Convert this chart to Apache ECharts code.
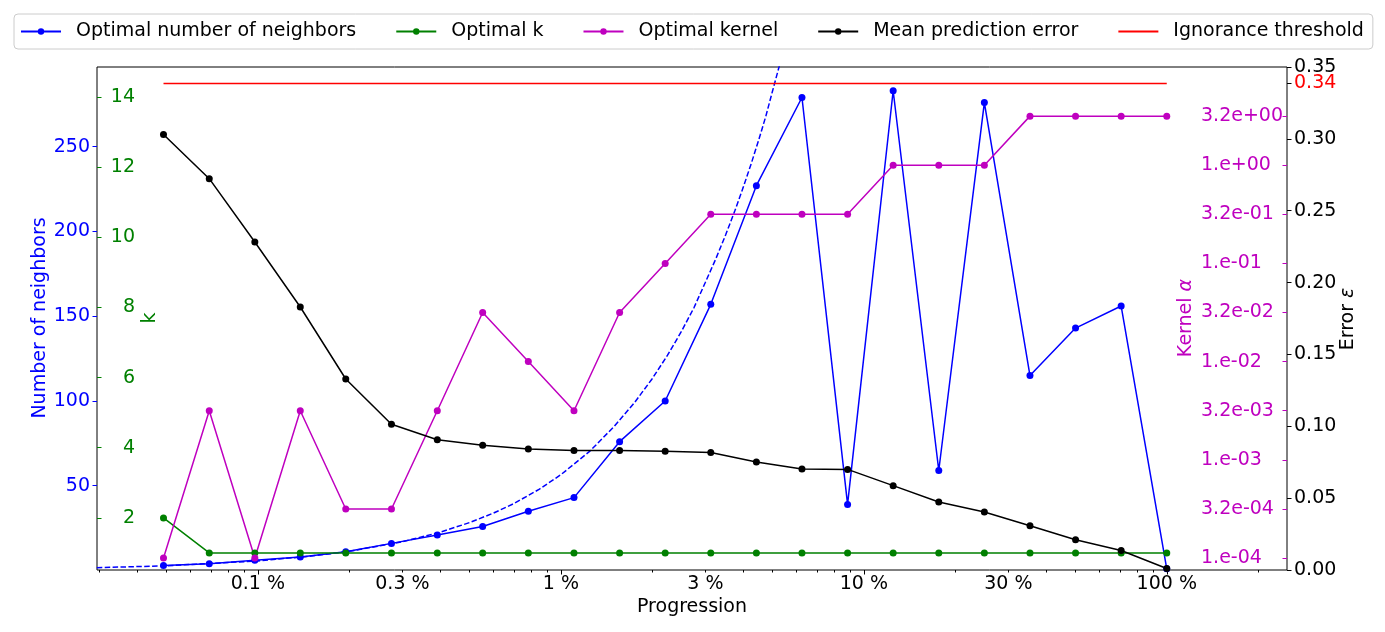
<!DOCTYPE html>
<html>
<head>
<meta charset="utf-8">
<script src="https://cdn.jsdelivr.net/npm/echarts@6/dist/echarts.min.js"></script>
<style>
html,body{margin:0;padding:0;background:#fff;}
#chart{width:1385px;height:632px;}
</style>
</head>
<body>
<div id="chart"></div>
<script>
// ---- data ----
const progression = [0.0488, 0.0691, 0.0977, 0.138, 0.195, 0.276, 0.391, 0.552, 0.781, 1.105, 1.563, 2.21, 3.125, 4.42, 6.25, 8.84, 12.5, 17.68, 25, 35.36, 50, 70.71, 100];
const neighbors = [3, 4, 6, 8, 11, 16, 21, 26, 35, 43, 76, 100, 157, 227, 279, 39, 283, 59, 276, 115, 143, 156, 1];
const optimalK = [2, 1, 1, 1, 1, 1, 1, 1, 1, 1, 1, 1, 1, 1, 1, 1, 1, 1, 1, 1, 1, 1, 1];
const kernelAlpha = [1e-4, 3.16e-3, 1e-4, 3.16e-3, 3.16e-4, 3.16e-4, 3.16e-3, 3.16e-2, 1e-2, 3.16e-3, 3.16e-2, 1e-1, 3.16e-1, 3.16e-1, 3.16e-1, 3.16e-1, 1, 1, 1, 3.16, 3.16, 3.16, 3.16];
const meanError = [0.3030, 0.2723, 0.2282, 0.1830, 0.1329, 0.1014, 0.0906, 0.0868, 0.0842, 0.0832, 0.0832, 0.0826, 0.0818, 0.0751, 0.0703, 0.0700, 0.0587, 0.0473, 0.0404, 0.0308, 0.0211, 0.0136, 0.0010];
const ignoranceThreshold = 0.3386;
// dashed reference curve
const fitProgression = [0.0294, 0.05, 0.1, 0.15, 0.2, 0.3, 0.4, 0.5, 0.6, 0.7, 0.85, 1, 1.25, 1.5, 1.75, 2, 2.25, 2.5, 2.75, 3, 3.25, 3.5, 3.75, 4, 4.25, 4.5, 4.75, 5, 5.25, 5.5];
const fitNeighbors = [1.66, 2.8, 5.65, 8.5, 11.3, 17, 22.6, 28.3, 33.9, 39.5, 48, 56.5, 70.6, 85, 99, 113, 127, 141, 155, 170, 184, 198, 212, 226, 240, 254, 268, 283, 297, 311];
// tick labels
const xTickLabels = [0.1, 0.3, 1, 3, 10, 30, 100];
const xMajorTicks = [0.1, 1, 10, 100];
const neighborTicks = [50, 100, 150, 200, 250];
const kTicks = [2, 4, 6, 8, 10, 12, 14];
const kernelTicks = [1e-4, 3.162e-4, 1e-3, 3.162e-3, 1e-2, 3.162e-2, 1e-1, 3.162e-1, 1, 3.162];
const errorTicks = [0, 0.05, 0.10, 0.15, 0.20, 0.25, 0.30, 0.35];

// ---- build ----
const L = Math.log10;
const xMinorTicks = [];
for (let d = -2; d <= 2; d++) {
  for (let m = 2; m <= 9; m++) xMinorTicks.push(m * Math.pow(10, d));
}
const xMin = L(0.02944), xMax = L(249.4);
const FONT = 'DejaVu Sans';
const FS = 19;
const BLUE = '#0000ff', GREEN = '#008000', MAG = '#bf00bf', BLACK = '#000000', RED = '#ff0000';

function fmtKernel(v) {
  const e = Math.floor(v + 1e-9);
  const m = Math.pow(10, v - e);
  const mant = Math.abs(m - 1) < 0.01 ? '1.' : m.toFixed(1);
  const ae = Math.abs(e);
  return mant + 'e' + (e < 0 ? '-' : '+') + (ae < 10 ? '0' : '') + ae;
}
function fmtX(v) {
  const p = Number(Math.pow(10, v).toPrecision(2));
  return p + ' %';
}
const pts = (xs, ys, fy) => xs.map((x, i) => [L(x), fy ? fy(ys[i]) : ys[i]]);

const lineCommon = {
  type: 'line', symbol: 'circle', symbolSize: 7, silent: true,
  xAxisIndex: 0
};
const noLine = { show: false, onZero: false };

const option = {
  animation: false,
  backgroundColor: '#fff',
  textStyle: { fontFamily: FONT },
  grid: { left: 97, right: 98, top: 67, bottom: 62, show: true, borderColor: '#000', borderWidth: 1, backgroundColor: 'transparent' },
  legend: {
    left: 14, top: 14,
    padding: [8, 9, 8, 6],
    itemGap: 39, itemWidth: 40, itemHeight: 8,
    borderColor: '#cccccc', borderWidth: 1, borderRadius: 4,
    backgroundColor: '#fff',
    data: ['Optimal number of neighbors', 'Optimal k', 'Optimal kernel', 'Mean prediction error',
           { name: 'Ignorance threshold', itemStyle: { opacity: 0 } }],
    formatter: name => '{s|}' + name,
    textStyle: { fontFamily: FONT, fontSize: FS, color: '#000', rich: { s: { width: 10 } } }
  },
  xAxis: [
    {
      type: 'value', min: xMin, max: xMax, position: 'bottom',
      axisLine: noLine, splitLine: { show: false },
      axisTick: { show: true, length: 4.5, customValues: xMajorTicks.map(L), lineStyle: { color: '#000', width: 1 } },
      axisLabel: { customValues: xTickLabels.map(L), formatter: fmtX, fontSize: FS, color: '#000', fontFamily: FONT, margin: 5 }
    },
    {
      type: 'value', min: xMin, max: xMax, position: 'bottom',
      axisLine: noLine, splitLine: { show: false },
      axisTick: { show: true, length: 2.5, customValues: xMinorTicks.map(L), lineStyle: { color: '#000', width: 1 } },
      axisLabel: { show: false }
    }
  ],
  yAxis: [
    { // neighbors
      type: 'value', position: 'left', min: 0.3, max: 297,
      axisLine: noLine, splitLine: { show: false },
      axisTick: { show: true, length: 4.5, customValues: neighborTicks, lineStyle: { color: BLUE, width: 1 } },
      axisLabel: { customValues: neighborTicks, color: BLUE, fontSize: FS, fontFamily: FONT, margin: 7 }
    },
    { // k
      type: 'value', position: 'left', min: 0.514, max: 14.857,
      axisLine: noLine, splitLine: { show: false },
      axisTick: { show: true, inside: true, length: 4.5, customValues: kTicks, lineStyle: { color: GREEN, width: 1 } },
      axisLabel: { inside: true, align: 'right', margin: 38, customValues: kTicks, color: GREEN, fontSize: FS, fontFamily: FONT }
    },
    { // kernel (log10 scale)
      type: 'value', position: 'right', min: L(7.55e-5), max: 1,
      axisLine: noLine, splitLine: { show: false },
      axisTick: { show: true, inside: true, length: 4.5, customValues: kernelTicks.map(L), lineStyle: { color: MAG, width: 1 } },
      axisLabel: { inside: true, align: 'left', margin: 86, customValues: kernelTicks.map(L), formatter: fmtKernel, color: MAG, fontSize: FS, fontFamily: FONT }
    },
    { // error
      type: 'value', position: 'right', min: 0, max: 0.35,
      axisLine: noLine, splitLine: { show: false },
      axisTick: { show: true, length: 4.5, customValues: errorTicks, lineStyle: { color: '#000', width: 1 } },
      axisLabel: { customValues: errorTicks, formatter: v => v.toFixed(2), color: '#000', fontSize: FS, fontFamily: FONT, margin: 7 }
    },
    { // threshold label
      type: 'value', position: 'right', min: 0, max: 0.35,
      axisLine: noLine, splitLine: { show: false },
      axisTick: { show: true, length: 4.5, customValues: [ignoranceThreshold], lineStyle: { color: '#000', width: 1 } },
      axisLabel: { customValues: [ignoranceThreshold], formatter: v => v.toFixed(2), color: RED, fontSize: FS, fontFamily: FONT, margin: 7 }
    }
  ],
  series: [
    Object.assign({}, lineCommon, {
      name: 'Optimal number of neighbors', yAxisIndex: 0,
      data: pts(progression, neighbors),
      itemStyle: { color: BLUE }, lineStyle: { color: BLUE, width: 1.5 }
    }),
    {
      type: 'line', name: 'fit', xAxisIndex: 0, yAxisIndex: 0, symbol: 'none', silent: true, clip: true,
      data: pts(fitProgression, fitNeighbors),
      itemStyle: { color: BLUE }, lineStyle: { color: BLUE, width: 1.5, type: [5.5, 2.4] }
    },
    Object.assign({}, lineCommon, {
      name: 'Optimal k', yAxisIndex: 1,
      data: pts(progression, optimalK),
      itemStyle: { color: GREEN }, lineStyle: { color: GREEN, width: 1.5 }
    }),
    Object.assign({}, lineCommon, {
      name: 'Optimal kernel', yAxisIndex: 2,
      data: pts(progression, kernelAlpha, L),
      itemStyle: { color: MAG }, lineStyle: { color: MAG, width: 1.5 }
    }),
    Object.assign({}, lineCommon, {
      name: 'Mean prediction error', yAxisIndex: 3,
      data: pts(progression, meanError),
      itemStyle: { color: BLACK }, lineStyle: { color: BLACK, width: 1.5 }
    }),
    {
      type: 'line', name: 'Ignorance threshold', xAxisIndex: 0, yAxisIndex: 3, symbol: 'none', silent: true,
      data: [[L(progression[0]), ignoranceThreshold], [L(progression[progression.length - 1]), ignoranceThreshold]],
      itemStyle: { color: RED }, lineStyle: { color: RED, width: 1.5 }
    }
  ],
  graphic: [
    { type: 'text', x: 40, y: 318, rotation: Math.PI / 2, silent: true,
      style: { text: 'Number of neighbors', fill: BLUE, font: FS + 'px "' + FONT + '"', align: 'center', verticalAlign: 'middle' } },
    { type: 'text', x: 150, y: 318, rotation: Math.PI / 2, silent: true,
      style: { text: 'k', fill: GREEN, font: FS + 'px "' + FONT + '"', align: 'center', verticalAlign: 'middle' } },
    { type: 'text', x: 1186, y: 318, rotation: Math.PI / 2, silent: true,
      style: { text: 'Kernel {i|α}', fill: MAG, font: FS + 'px "' + FONT + '"', align: 'center', verticalAlign: 'middle',
               rich: { i: { fontStyle: 'italic', fill: MAG, fontSize: FS, fontFamily: FONT } } } },
    { type: 'text', x: 1348, y: 319, rotation: Math.PI / 2, silent: true,
      style: { text: 'Error {i|ε}', fill: BLACK, font: FS + 'px "' + FONT + '"', align: 'center', verticalAlign: 'middle',
               rich: { i: { fontStyle: 'italic', fill: BLACK, fontSize: FS, fontFamily: FONT } } } },
    { type: 'text', x: 692, y: 607, silent: true,
      style: { text: 'Progression', fill: BLACK, font: FS + 'px "' + FONT + '"', align: 'center', verticalAlign: 'middle' } }
  ]
};

const chart = echarts.init(document.getElementById('chart'), null, { renderer: 'canvas' });
chart.setOption(option);
</script>
</body>
</html>
